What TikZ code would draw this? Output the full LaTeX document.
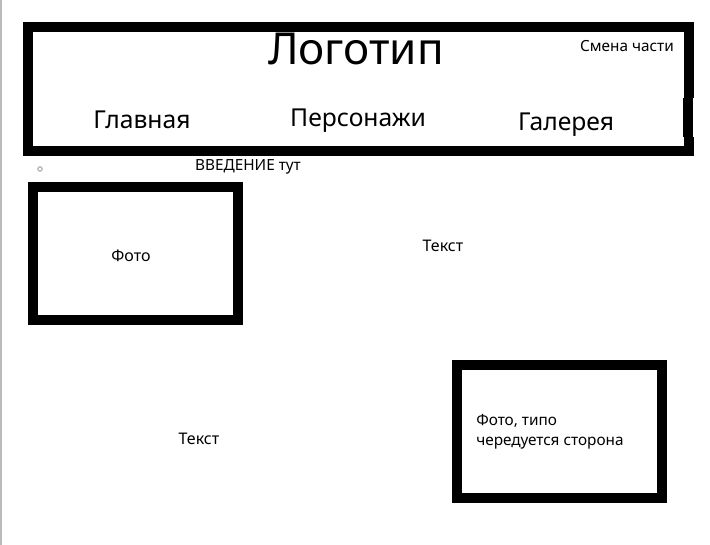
\documentclass[tikz,border=0pt]{standalone}
\usepackage{fontspec}
\setmainfont{Noto Sans}
\begin{document}
\begin{tikzpicture}[x=0.75pt,y=-0.75pt,
  frame/.style={draw=black,line width=7.5pt,line join=miter},
  lbl/.style={inner sep=0pt,anchor=base,text=black},
  lbll/.style={inner sep=0pt,anchor=base west,text=black,align=left}]
\useasboundingbox (0,0) rectangle (710,545);
\fill[white] (0,0) rectangle (710,545);
% left gray edge
\draw[draw=black!27,line width=1.1pt] (0.8,0) -- (0.8,545);
% header box
\draw[frame] (28,27) rectangle (689,151);
\fill[black] (683,98) rectangle (684,137);
\fill[white] (693,98) rectangle (694.5,137);
% small circle
\draw[draw=black!30,line width=0.9pt] (40,169) circle (2.2);
% photo boxes
\draw[frame] (33,187) rectangle (238,320);
\draw[frame] (457,365) rectangle (662,498);
% texts
\node[lbl,font=\fontsize{33}{38}\selectfont] (logo) at (356,65) {Логотип};
\node[lbl,font=\fontsize{11.5}{14}\selectfont] (smena) at (627,52) {Смена части};
\node[lbl,font=\fontsize{18.5}{22}\selectfont] (glav) at (142,129) {Главная};
\node[lbl,font=\fontsize{18.5}{22}\selectfont] (pers) at (358,127) {Персонажи};
\node[lbl,font=\fontsize{18.5}{22}\selectfont] (gal) at (566,131) {Галерея};
\node[lbl,font=\fontsize{11.5}{14}\selectfont] (intro) at (248,171) {ВВЕДЕНИЕ тут};
\node[lbl,font=\fontsize{12}{14}\selectfont] (foto1) at (131,262) {Фото};
\node[lbl,font=\fontsize{12}{14}\selectfont] (text1) at (443,252) {Текст};
\node[lbl,font=\fontsize{12}{14}\selectfont] (text2) at (199,444) {Текст};
\node[lbll,font=\fontsize{11.5}{15}\selectfont] (foto2) at (476,445) {Фото, типо\\чередуется сторона};
\end{tikzpicture}
\end{document}
